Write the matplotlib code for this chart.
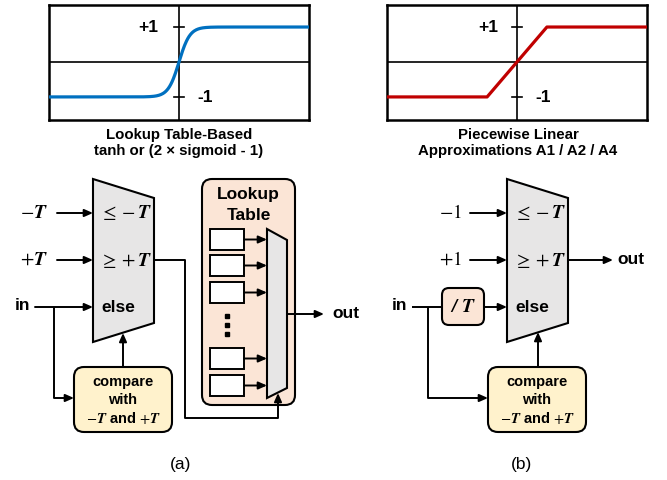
import numpy as np
import matplotlib
matplotlib.use("Agg")
import matplotlib.pyplot as plt
from matplotlib.patches import Polygon, FancyBboxPatch, Rectangle

plt.rcParams['font.family'] = ['Liberation Sans', 'DejaVu Sans']
plt.rcParams['mathtext.fontset'] = 'stix'

# curve data for the two small plots
tanh_x = np.linspace(-4, 4, 400)
tanh_gain = 3.0                       # steepness
pwl_x = [-4, -0.92, 0.92, 4]
pwl_y = [-1, -1, 1, 1]

# text content
title_a = ["Lookup Table-Based", "tanh or (2 × sigmoid - 1)"]
title_b = ["Piecewise Linear", "Approximations A1 / A2 / A4"]
mux_labels = [r"$\leq -\mathbfit{T}$", r"$\geq +\mathbfit{T}$", "else"]
inputs_a = [r"$-\mathbfit{T}$", r"$+\mathbfit{T}$"]
inputs_b = [r"$-1$", r"$+1$"]
compare_lines = ["compare", "with", r"$-\mathbfit{T}$ and $+\mathbfit{T}$"]
lut_rows = 5

BLUE = "#0070C0"
RED = "#C00000"
GRAY = "#E7E6E6"
YELLOW = "#FFF2CC"
PEACH = "#FBE5D6"
LW = 1.4

W, H = 667, 480
fig = plt.figure(figsize=(W / 100, H / 100), dpi=100)
ax = fig.add_axes([0, 0, 1, 1])
ax.set_xlim(0, W)
ax.set_ylim(H, 0)
ax.axis("off")


def small_plot(left, xs, ys, color, p1x, m1x):
    # pixel box: x left..left+260, y 5..120
    a = fig.add_axes([left / W, 1 - 120 / H, 260 / W, 115 / H])
    a.plot(xs, ys, color=color, lw=2.3, solid_capstyle="butt", zorder=3)
    a.axhline(0, color="black", lw=1.2)
    a.axvline(0, color="black", lw=1.2)
    for yv in (1, -1):
        a.plot([-0.16, 0.16], [yv, yv], color="black", lw=1.2)
    a.set_xlim(-4, 4)
    a.set_ylim(-1.66, 1.63)
    a.set_xticks([])
    a.set_yticks([])
    for s in a.spines.values():
        s.set_linewidth(1.8)
    # tick labels live on the inset, placed in page pixels
    a.text(p1x, 27, "+1", ha="center", va="center", fontsize=12.5, weight="bold",
           transform=ax.transData, clip_on=False, zorder=5)
    a.text(m1x, 97, "-1", ha="center", va="center", fontsize=12.5, weight="bold",
           transform=ax.transData, clip_on=False, zorder=5)
    return a


small_plot(49, tanh_x, np.tanh(tanh_gain * tanh_x), BLUE, 148, 205)
small_plot(387, pwl_x, pwl_y, RED, 488, 543)

for cx, lines in [(179, title_a), (518, title_b)]:
    ax.text(cx, 135, lines[0], ha="center", va="center", fontsize=10.8, weight="bold")
    ax.text(cx, 151, lines[1], ha="center", va="center", fontsize=10.8, weight="bold")


def arrow(x0, y0, x1, y1):
    ax.annotate("", xy=(x1, y1), xytext=(x0, y0),
                arrowprops=dict(arrowstyle="-|>,head_length=0.5,head_width=0.22",
                                lw=LW, color="black", shrinkA=0, shrinkB=0,
                                mutation_scale=10), zorder=4)


def line(xs, ys):
    ax.plot(xs, ys, color="black", lw=LW, solid_capstyle="butt", zorder=3)


def mux(x0):
    pts = [(x0, 179), (x0 + 61, 198), (x0 + 61, 323), (x0, 342)]
    ax.add_patch(Polygon(pts, closed=True, facecolor=GRAY, edgecolor="black", lw=1.5, zorder=2))
    ys = [213, 260, 307]
    for lab, y in zip(mux_labels, ys):
        if lab == "else":
            ax.text(x0 + 8, y, lab, ha="left", va="center", fontsize=12.5, weight="bold", zorder=5)
        else:
            ax.text(x0 + 7, y, lab, ha="left", va="center", fontsize=14, zorder=5)


def rbox(x, y, w, h, fc, r=8):
    ax.add_patch(FancyBboxPatch((x, y), w, h, boxstyle=f"round,pad=0,rounding_size={r}",
                                facecolor=fc, edgecolor="black", lw=1.5, zorder=2))


def compare_box(x, y):
    rbox(x, y, 98, 65, YELLOW, r=10)
    for txt, yy in zip(compare_lines, [382, 400, 418]):
        ax.text(x + 49, yy, txt, ha="center", va="center", fontsize=10.5, weight="bold", zorder=5)


# ---------------- (a) ----------------
mux(93)
for lab, y in zip(inputs_a, [213, 260]):
    ax.text(34, y, lab, ha="center", va="center", fontsize=14)
    arrow(57, y, 93, y)
ax.text(30, 306, "in", ha="right", va="center", fontsize=12.5, weight="bold")
arrow(35, 307, 93, 307)
line([54, 54], [307, 398])
arrow(54, 398, 74, 398)
compare_box(74, 367)
arrow(123, 367, 123, 333)

# lookup table
rbox(202, 179, 93, 226, PEACH, r=10)
ax.text(248.5, 195, "Lookup", ha="center", va="center", fontsize=12.5, weight="bold")
ax.text(248.5, 215, "Table", ha="center", va="center", fontsize=12.5, weight="bold")
row_tops = [229, 255, 282, 348, 375]
for yt in row_tops[:lut_rows]:
    ax.add_patch(Rectangle((210, yt), 34, 21, facecolor="white", edgecolor="black", lw=1.4, zorder=3))
    arrow(244, yt + 10.5, 267, yt + 10.5)
ax.plot([227, 227, 227], [316, 325, 334], ls="none", marker="s", ms=3, color="black")
ax.add_patch(Polygon([(267, 229), (287, 240), (287, 388), (267, 398)], closed=True,
                     facecolor=GRAY, edgecolor="black", lw=1.5, zorder=3))
line([154, 185, 185, 278], [260, 260, 418, 418])
arrow(278, 418, 278, 393)
arrow(287, 314, 324, 314)
ax.text(332, 314, "out", ha="left", va="center", fontsize=12.5, weight="bold")

# ---------------- (b) ----------------
mux(507)
for lab, y in zip(inputs_b, [213, 260]):
    ax.text(450, y, lab, ha="center", va="center", fontsize=14)
    arrow(470, y, 507, y)
arrow(568, 260, 613, 260)
ax.text(617, 260, "out", ha="left", va="center", fontsize=12.5, weight="bold")
ax.text(407, 306, "in", ha="right", va="center", fontsize=12.5, weight="bold")
line([412, 442], [307, 307])
rbox(442, 288, 42, 37, PEACH, r=7)
ax.text(463, 307, r"$\mathbfit{/\ T}$", ha="center", va="center", fontsize=14, zorder=5)
arrow(484, 307, 507, 307)
line([428, 428], [307, 398])
arrow(428, 398, 488, 398)
compare_box(488, 367)
arrow(538, 367, 538, 332)

ax.text(181, 465, "(a)", ha="center", va="center", fontsize=12.5)
ax.text(522, 465, "(b)", ha="center", va="center", fontsize=12.5)

fig.savefig("out.png", dpi=100)
